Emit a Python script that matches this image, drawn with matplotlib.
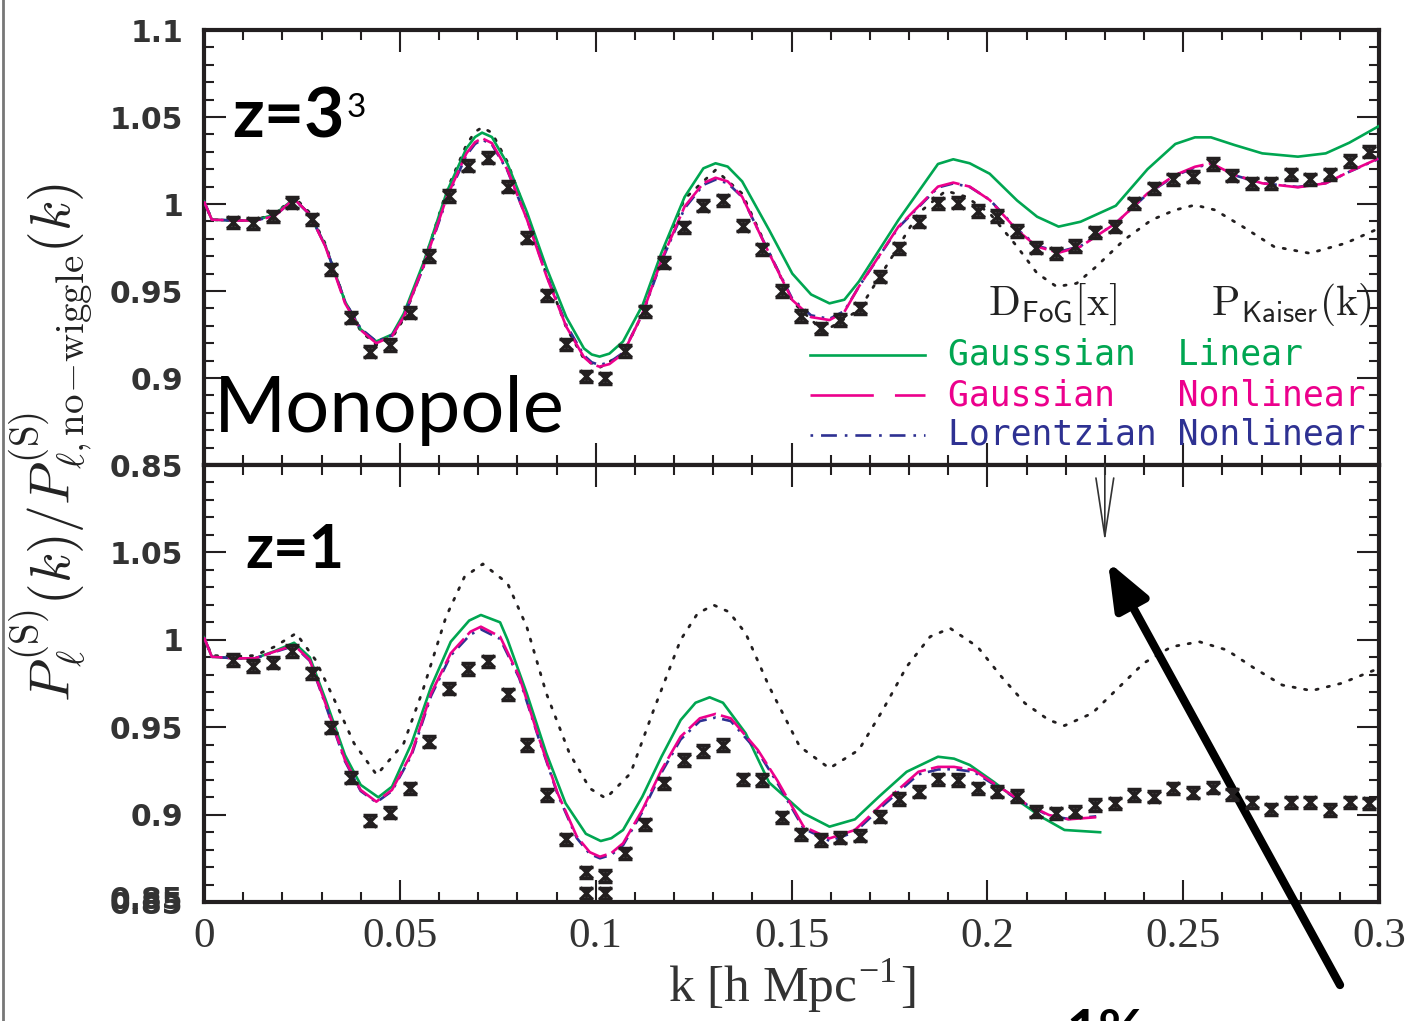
"""
BAO wiggles in the redshift-space monopole: ratio of P_0^(S)(k) to its
no-wiggle counterpart at z=3 and z=1, N-body points vs. FoG models.
"""

import matplotlib
matplotlib.use("Agg")
import matplotlib.pyplot as plt
from matplotlib.lines import Line2D
from matplotlib.ticker import FixedLocator, FixedFormatter, MultipleLocator

plt.rcParams["mathtext.fontset"] = "cm"

GREEN = "#00a651"
MAGENTA = "#ec008c"
BLUE = "#2e3192"
INK = "#231f20"

# ── N-body measurements (same k bins in both panels) ─────────────────────
k_sim = [0.0075, 0.0125, 0.0175, 0.0225, 0.0275, 0.0325, 0.0375, 0.0425, 0.0475, 0.0525,
         0.0575, 0.0625, 0.0675, 0.0725, 0.0775, 0.0825, 0.0875, 0.0925, 0.0975, 0.1025,
         0.1075, 0.1125, 0.1175, 0.1225, 0.1275, 0.1325, 0.1375, 0.1425, 0.1475, 0.1525,
         0.1575, 0.1625, 0.1675, 0.1725, 0.1775, 0.1825, 0.1875, 0.1925, 0.1975, 0.2025,
         0.2075, 0.2125, 0.2175, 0.2225, 0.2275, 0.2325, 0.2375, 0.2425, 0.2475, 0.2525,
         0.2575, 0.2625, 0.2675, 0.2725, 0.2775, 0.2825, 0.2875, 0.2925, 0.2975]

sim_z3 = [0.9895, 0.9890, 0.9930, 1.0008, 0.9912, 0.9625, 0.9347, 0.9151, 0.9190, 0.9375,
          0.9701, 1.0046, 1.0220, 1.0266, 1.0100, 0.9806, 0.9475, 0.9195, 0.9011, 0.8998,
          0.9155, 0.9383, 0.9663, 0.9866, 0.9990, 1.0021, 0.9874, 0.9740, 0.9500, 0.9356,
          0.9285, 0.9333, 0.9400, 0.9582, 0.9745, 0.9899, 1.0004, 1.0008, 0.9960, 0.9931,
          0.9845, 0.9749, 0.9716, 0.9759, 0.9837, 0.9870, 1.0004, 1.0090, 1.0142, 1.0157,
          1.0230, 1.0163, 1.0119, 1.0119, 1.0171, 1.0142, 1.0171, 1.0247, 1.0300]

sim_z1 = [0.9884, 0.9850, 0.9869, 0.9936, 0.9808, 0.9497, 0.9211, 0.8965, 0.9011, 0.9150,
          0.9417, 0.9720, 0.9833, 0.9877, 0.9688, 0.9398, 0.9112, 0.8859, 0.8670, 0.8649,
          0.8779, 0.8944, 0.9179, 0.9312, 0.9364, 0.9398, 0.9202, 0.9198, 0.8985, 0.8887,
          0.8855, 0.8868, 0.8879, 0.8988, 0.9089, 0.9131, 0.9202, 0.9198, 0.9150, 0.9131,
          0.9106, 0.9017, 0.9007, 0.9017, 0.9055, 0.9064, 0.9112, 0.9102, 0.9150, 0.9125,
          0.9154, 0.9116, 0.9070, 0.9030, 0.9070, 0.9070, 0.9026, 0.9070, 0.9064]

sim_err = 0.0032

# points falling just below the z=1 frame
k_low = [0.0975, 0.1025]
sim_low = [0.855, 0.855]

# ── z=3 model curves ─────────────────────────────────────────────────────
k_z3 = [0.000, 0.002, 0.008, 0.013, 0.018, 0.023, 0.027, 0.031, 0.036, 0.040,
        0.044, 0.048, 0.051, 0.056, 0.062, 0.067, 0.0692, 0.071, 0.0735, 0.0775,
        0.0825, 0.0875, 0.0925, 0.097, 0.099, 0.101, 0.1035, 0.107, 0.112, 0.1168,
        0.1227, 0.1275, 0.1306, 0.1337, 0.1374, 0.1443, 0.1502, 0.155, 0.1597, 0.1635,
        0.1672, 0.1773, 0.1874, 0.1913, 0.1955, 0.2006, 0.2076, 0.2127, 0.2182, 0.2238,
        0.2328, 0.2409, 0.248, 0.253, 0.2571, 0.2631, 0.2702, 0.2793, 0.2864, 0.2924,
        0.300]

gauss_nl_z3 = [1.0015, 0.9910, 0.9905, 0.9905, 0.9930, 1.0030, 0.9940, 0.9755, 0.9430, 0.9276,
               0.9200, 0.9240, 0.9352, 0.9640, 1.0040, 1.0291, 1.0355, 1.0378, 1.0350, 1.0195,
               0.9908, 0.9582, 0.9295, 0.9120, 0.9080, 0.9065, 0.9080, 0.9140, 0.9372, 0.9678,
               0.9985, 1.0120, 1.0151, 1.0130, 1.0042, 0.9716, 0.9448, 0.9350, 0.9333, 0.9380,
               0.9525, 0.9870, 1.0100, 1.0123, 1.0100, 1.0023, 0.9850, 0.9755, 0.9720, 0.9755,
               0.9890, 1.0061, 1.0167, 1.0214, 1.0234, 1.0167, 1.0119, 1.0096, 1.0119, 1.0186,
               1.0263]

lorentz_nl_z3 = [1.0015, 0.9910, 0.9905, 0.9905, 0.9930, 1.0028, 0.9940, 0.9760, 0.9440, 0.9285,
                 0.9210, 0.9245, 0.9350, 0.9635, 1.0030, 1.0280, 1.0345, 1.0370, 1.0342, 1.0190,
                 0.9910, 0.9590, 0.9305, 0.9130, 0.9090, 0.9075, 0.9090, 0.9145, 0.9370, 0.9670,
                 0.9975, 1.0110, 1.0140, 1.0120, 1.0040, 0.9720, 0.9455, 0.9360, 0.9340, 0.9385,
                 0.9525, 0.9865, 1.0095, 1.0118, 1.0098, 1.0025, 0.9855, 0.9760, 0.9725, 0.9758,
                 0.9890, 1.0058, 1.0163, 1.0210, 1.0230, 1.0165, 1.0119, 1.0098, 1.0120, 1.0185,
                 1.0260]

gauss_lin_z3 = [1.0015, 0.9910, 0.9905, 0.9905, 0.9940, 1.0030, 0.9940, 0.9760, 0.9440, 0.9280,
                0.9210, 0.9250, 0.9370, 0.9660, 1.0070, 1.0320, 1.0385, 1.0410, 1.0385, 1.0230,
                0.9950, 0.9630, 0.9350, 0.9170, 0.9135, 0.9123, 0.9140, 0.9210, 0.9420, 0.9720,
                1.0040, 1.0205, 1.0234, 1.0215, 1.0130, 0.9850, 0.9600, 0.9480, 0.9429, 0.9450,
                0.9554, 0.9908, 1.0230, 1.0257, 1.0234, 1.0174, 1.0020, 0.9927, 0.9870, 0.9898,
                0.9990, 1.0200, 1.0345, 1.0383, 1.0383, 1.0339, 1.0291, 1.0272, 1.0291, 1.0352,
                1.0448]

k_kaiser_z3 = [0.000, 0.002, 0.008, 0.013, 0.018, 0.023, 0.027, 0.031, 0.036, 0.040,
               0.044, 0.048, 0.051, 0.056, 0.062, 0.067, 0.0692, 0.071, 0.0735, 0.0775,
               0.0825, 0.0875, 0.0925, 0.097, 0.101, 0.107, 0.112, 0.1168, 0.1227, 0.1306,
               0.1374, 0.1443, 0.1502, 0.1582, 0.1672, 0.1773, 0.1824, 0.1894, 0.1945, 0.2006,
               0.2076, 0.2127, 0.2177, 0.2228, 0.2278, 0.2349, 0.2419, 0.248, 0.253, 0.2581,
               0.2652, 0.2732, 0.2823, 0.2914, 0.300]

kaiser_z3 = [1.0015, 0.9910, 0.9905, 0.9910, 0.9940, 1.0040, 0.9950, 0.9770, 0.9440, 0.9270,
             0.9190, 0.9230, 0.9340, 0.9650, 1.0080, 1.0340, 1.0415, 1.0440, 1.0410, 1.0240,
             0.9930, 0.9590, 0.9290, 0.9110, 0.9060, 0.9140, 0.9370, 0.9700, 1.0030, 1.0195,
             1.0060, 0.9720, 0.9440, 0.9266, 0.9390, 0.9755, 0.9947, 1.0076, 1.0042, 0.9947,
             0.9755, 0.9602, 0.9525, 0.9544, 0.9640, 0.9793, 0.9908, 0.9966, 0.9994, 0.9966,
             0.9870, 0.9755, 0.9717, 0.9774, 0.9860]

# ── z=1 model curves ─────────────────────────────────────────────────────
k_nl_z1 = [0.000, 0.002, 0.008, 0.013, 0.018, 0.023, 0.027, 0.031, 0.036, 0.040,
           0.044, 0.048, 0.053, 0.058, 0.063, 0.068, 0.0707, 0.0756, 0.0805, 0.0854,
           0.0903, 0.0952, 0.0985, 0.1011, 0.104, 0.107, 0.1119, 0.1168, 0.1217, 0.1266,
           0.1306, 0.1345, 0.1414, 0.1463, 0.1531, 0.1597, 0.1662, 0.1738, 0.1824, 0.1874,
           0.1915, 0.1965, 0.2036, 0.2096, 0.2157, 0.2207, 0.2278]

gauss_nl_z1 = [1.0014, 0.9903, 0.9894, 0.9894, 0.9932, 0.9970, 0.9884, 0.9637, 0.9312, 0.9141,
               0.9074, 0.9141, 0.9351, 0.9694, 0.9923, 1.0046, 1.0075, 1.0018, 0.9789, 0.9446,
               0.9122, 0.8874, 0.8785, 0.8759, 0.8780, 0.8836, 0.9026, 0.9255, 0.9446, 0.9551,
               0.9576, 0.9551, 0.9370, 0.9198, 0.8931, 0.8864, 0.8912, 0.9074, 0.9245, 0.9273,
               0.9273, 0.9255, 0.9150, 0.9065, 0.8998, 0.8973, 0.8985]

lorentz_nl_z1 = [1.0014, 0.9903, 0.9894, 0.9894, 0.9930, 0.9965, 0.9880, 0.9630, 0.9305, 0.9135,
                 0.9070, 0.9135, 0.9340, 0.9680, 0.9910, 1.0030, 1.0060, 1.0005, 0.9780, 0.9440,
                 0.9115, 0.8865, 0.8775, 0.8750, 0.8770, 0.8825, 0.9015, 0.9240, 0.9430, 0.9535,
                 0.9555, 0.9535, 0.9360, 0.9185, 0.8920, 0.8850, 0.8900, 0.9060, 0.9230, 0.9258,
                 0.9260, 0.9245, 0.9145, 0.9062, 0.8995, 0.8975, 0.8990]

k_lin_z1 = [0.000, 0.002, 0.008, 0.013, 0.018, 0.023, 0.027, 0.031, 0.036, 0.040,
            0.0445, 0.048, 0.053, 0.058, 0.063, 0.0677, 0.0707, 0.0756, 0.0775, 0.0824,
            0.0874, 0.0923, 0.0975, 0.1013, 0.104, 0.107, 0.1119, 0.1168, 0.1217, 0.1255,
            0.1291, 0.1325, 0.1383, 0.1443, 0.1531, 0.1597, 0.1662, 0.1723, 0.1794, 0.1874,
            0.1915, 0.1955, 0.2016, 0.2076, 0.2137, 0.2197, 0.2288]

gauss_lin_z1 = [1.0014, 0.9903, 0.9894, 0.9894, 0.9935, 0.9983, 0.9900, 0.9660, 0.9340, 0.9170,
                0.9099, 0.9160, 0.9408, 0.9732, 0.9989, 1.0110, 1.0142, 1.0100, 1.0000, 0.9694,
                0.9351, 0.9065, 0.8890, 0.8849, 0.8865, 0.8912, 0.9102, 0.9331, 0.9541, 0.9640,
                0.9671, 0.9640, 0.9465, 0.9183, 0.9007, 0.8931, 0.8973, 0.9102, 0.9245, 0.9331,
                0.9320, 0.9284, 0.9188, 0.9084, 0.8988, 0.8912, 0.8899]

k_kaiser_z1 = [0.000, 0.002, 0.008, 0.013, 0.018, 0.0235, 0.0285, 0.0333, 0.0383, 0.0441,
               0.051, 0.0559, 0.0618, 0.0665, 0.0712, 0.0775, 0.0824, 0.0874, 0.0933, 0.0985,
               0.1026, 0.1089, 0.1148, 0.1217, 0.1260, 0.1301, 0.1340, 0.1383, 0.1443, 0.1521,
               0.1597, 0.1672, 0.1733, 0.1794, 0.1854, 0.1905, 0.1975, 0.2036, 0.2096, 0.2157,
               0.2197, 0.2268, 0.2329, 0.2399, 0.247, 0.2541, 0.2611, 0.2682, 0.2753, 0.2828,
               0.2904, 0.300]

kaiser_z1 = [1.0014, 0.9910, 0.9905, 0.9910, 0.9960, 1.0037, 0.9884, 0.9656, 0.9408, 0.9227,
             0.9408, 0.9713, 1.0132, 1.0360, 1.0434, 1.0323, 1.0075, 0.9694, 0.9351, 0.9150,
             0.9093, 0.9236, 0.9598, 1.0000, 1.0150, 1.0199, 1.0160, 1.0037, 0.9732, 0.9389,
             0.9265, 0.9370, 0.9598, 0.9846, 1.0018, 1.0066, 0.9960, 0.9789, 0.9637, 0.9541,
             0.9509, 0.9580, 0.9713, 0.9866, 0.9960, 0.9989, 0.9942, 0.9837, 0.9741, 0.9709,
             0.9751, 0.9837]

# ── axis labelling ───────────────────────────────────────────────────────
x_ticks = [0, 0.05, 0.1, 0.15, 0.2, 0.25, 0.3]
x_ticklabels = ["0", "0.05", "0.1", "0.15", "0.2", "0.25", "0.3"]
y_ticks_top = [0.85, 0.9, 0.95, 1.0, 1.05, 1.1]
y_ticklabels_top = ["0.85", "0.9", "0.95", "1", "1.05", "1.1"]
y_ticks_bot = [0.85, 0.9, 0.95, 1.0, 1.05]
y_ticklabels_bot = ["0.85", "0.9", "0.95", "1", "1.05"]

legend_rows = [
    ("Gausssian  Linear", GREEN, "-"),
    ("Gaussian   Nonlinear", MAGENTA, (0, (24, 8))),
    ("Lorentzian Nonlinear", BLUE, (0, (1, 3, 6, 3))),
]


def style_axis(ax, yticks, yticklabels):
    ax.set_xlim(0, 0.3)
    ax.set_ylim(0.85, 1.1)
    ax.xaxis.set_major_locator(FixedLocator(x_ticks))
    ax.xaxis.set_minor_locator(MultipleLocator(0.01))
    ax.yaxis.set_major_locator(FixedLocator(yticks))
    ax.yaxis.set_major_formatter(FixedFormatter(yticklabels))
    ax.yaxis.set_minor_locator(MultipleLocator(0.01))
    ax.tick_params(which="both", direction="in", top=True, right=True, color=INK)
    ax.tick_params(which="major", length=16, width=1.5)
    ax.tick_params(which="minor", length=7, width=1.5)
    ax.tick_params(axis="y", pad=15, labelsize=21.5, labelcolor="#333333")
    for lab in ax.get_yticklabels():
        lab.set_fontweight("bold")
        lab.set_family("DejaVu Sans")
    for sp in ax.spines.values():
        sp.set_linewidth(3)
        sp.set_color(INK)


def draw_panel(ax, k_k, y_k, k_lin, y_lin, k_nl, y_lor, y_gnl, y_sim):
    line_kw = dict(solid_joinstyle="round", dash_joinstyle="round")
    ax.plot(k_k, y_k, color=INK, lw=2.0, ls=(0, (0.8, 3.4)), dash_capstyle="round", zorder=2)
    ax.plot(k_lin, y_lin, color=GREEN, lw=1.9, zorder=3, **line_kw)
    ax.plot(k_nl, y_lor, color=BLUE, lw=1.9, ls=(0, (5, 2.5, 1, 2.5)), zorder=3, **line_kw)
    ax.plot(k_nl, y_gnl, color=MAGENTA, lw=1.9, ls=(0, (12, 2)), zorder=4, **line_kw)
    ax.errorbar(k_sim, y_sim, yerr=sim_err, fmt="x", color=INK, ms=8.5, mew=2.5,
                elinewidth=2.0, capsize=5, capthick=2.6, zorder=5)


fig = plt.figure(figsize=(14.07, 10.21), dpi=100)
left, width = 204 / 1407, 1175 / 1407
ax1 = fig.add_axes([left, 1 - 465 / 1021, width, 435 / 1021])
ax2 = fig.add_axes([left, 1 - 902 / 1021, width, 437 / 1021])

draw_panel(ax1, k_kaiser_z3, kaiser_z3, k_z3, gauss_lin_z3, k_z3, lorentz_nl_z3, gauss_nl_z3, sim_z3)
draw_panel(ax2, k_kaiser_z1, kaiser_z1, k_lin_z1, gauss_lin_z1, k_nl_z1, lorentz_nl_z1, gauss_nl_z1, sim_z1)
ax2.errorbar(k_low, sim_low, yerr=sim_err, fmt="x", color=INK, ms=8.5, mew=2.5,
             elinewidth=2.0, capsize=5, capthick=2.6, zorder=5)

style_axis(ax1, y_ticks_top, y_ticklabels_top)
style_axis(ax2, y_ticks_bot, y_ticklabels_bot)
ax1.tick_params(axis="x", labelbottom=False)
ax2.xaxis.set_major_formatter(FixedFormatter(x_ticklabels))
ax2.tick_params(axis="x", pad=11, labelsize=31, labelcolor="#333333")
for lab in ax2.get_xticklabels():
    lab.set_family("Liberation Serif")

# doubled-up bottom label
fig.text(183 / 1407, 1 - 900 / 1021, "0.85", ha="right", va="center", fontsize=21.5,
         fontweight="bold", color="#333333")

# ── panel annotations ────────────────────────────────────────────────────
ax1.text(0.024, 0.752, "z=3", transform=ax1.transAxes, fontsize=50, fontweight="bold",
         family="Lato", color="black", va="baseline")
ax1.text(0.121, 0.80, "3", transform=ax1.transAxes, fontsize=24,
         family="Lato", color="black", va="baseline")
ax1.text(0.008, 0.076, "Monopole", transform=ax1.transAxes, fontsize=56,
         family="Lato", color="black", va="baseline")
ax2.text(0.035, 0.764, "z=1", transform=ax2.transAxes, fontsize=44, fontweight="bold",
         family="Lato", color="black", va="baseline")

ax1.text(0.667, 0.345, r"$\mathrm{D}_{\mathsf{FoG}}[\mathrm{x}]$", transform=ax1.transAxes,
         fontsize=30, color="#222222", va="baseline")
ax1.text(0.857, 0.345, r"$\mathrm{P}_{\mathsf{Kaiser}}(\mathrm{k})$", transform=ax1.transAxes,
         fontsize=30, color="#222222", va="baseline")

# hand-placed legend
row_y = [0.2529, 0.1609, 0.069]
for (label, color, ls), yy in zip(legend_rows, row_y):
    ax1.plot([0.5157, 0.6136], [yy, yy], transform=ax1.transAxes, color=color, lw=1.9, ls=ls,
             clip_on=False)
    ax1.text(0.6332, yy, label, transform=ax1.transAxes, color=color, fontsize=25,
             family="DejaVu Sans Mono", va="center", ha="left")

# thin marker arrow and the big pointer into it
ax2.annotate("", xy=(0.23, 1.056), xytext=(0.23, 1.1),
             arrowprops=dict(arrowstyle="->,head_length=2.1,head_width=0.32",
                             mutation_scale=20, lw=1.2, color="#333333",
                             shrinkA=0, shrinkB=0))
ax2.annotate("", xy=(0.2308, 1.0447), xytext=(1340 / 1407, 36 / 1021),
             textcoords="figure fraction", annotation_clip=False,
             arrowprops=dict(arrowstyle="-|>,head_length=1.4,head_width=0.55",
                             mutation_scale=20, lw=6, color="black",
                             shrinkA=0, shrinkB=0))

# ── axis titles ──────────────────────────────────────────────────────────
fig.text(0.036, 1 - 443 / 1021,
         r"$P_\ell^{(\mathrm{S})}(k)/P^{(\mathrm{S})}_{\ell,\mathrm{no\!-\!wiggle}}(k)$",
         rotation=90, ha="center", va="center", fontsize=40, color="#222222")
fig.text(792 / 1407, 1 - 1016 / 1021, r"k [h Mpc$^{\mathregular{-1}}$]", ha="center",
         va="bottom", fontsize=37, family="Liberation Serif", color="#333333")
fig.text(1066 / 1407, 1 - 1008 / 1021, "1%", ha="left", va="top", fontsize=40,
         fontweight="bold", family="Lato", color="black")

fig.add_artist(Line2D([0.002, 0.002], [0, 1], transform=fig.transFigure,
                      color="#777777", lw=2))

fig.savefig("out.png", dpi=100)
